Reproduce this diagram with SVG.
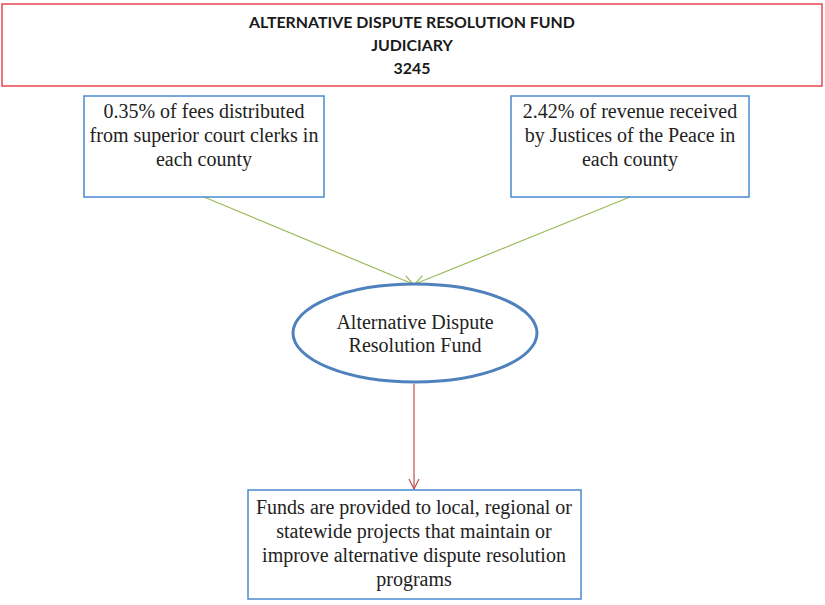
<svg xmlns="http://www.w3.org/2000/svg" width="825" height="605" viewBox="0 0 825 605">
  <style>
    .title { font-family: "Lato", "Liberation Sans", sans-serif; font-weight: bold; font-size: 15.9px; fill: #1a1a1a; text-anchor: middle; }
    .body { font-family: "Liberation Serif", "Times New Roman", serif; font-size: 20px; fill: #222; text-anchor: middle; }
    .box { fill: #fff; stroke: #4a8bd0; stroke-width: 1.5; }
    .green { stroke: #9bbb59; stroke-width: 1.2; fill: none; }
    .red { stroke: #c0504d; stroke-width: 1.2; fill: none; }
  </style>
  <defs>
    <marker id="arrGreen" viewBox="0 0 12 12" refX="11" refY="6" markerWidth="12" markerHeight="12" markerUnits="userSpaceOnUse" orient="auto">
      <path d="M1,1 L11,6 L1,11" fill="none" stroke="#9bbb59" stroke-width="1.2"/>
    </marker>
    <marker id="arrRed" viewBox="0 0 12 12" refX="11" refY="6" markerWidth="12" markerHeight="12" markerUnits="userSpaceOnUse" orient="auto">
      <path d="M1,1 L11,6 L1,11" fill="none" stroke="#c0504d" stroke-width="1.2"/>
    </marker>
  </defs>
  <rect width="825" height="605" fill="#fff"/>

  <g id="header">
    <rect x="2" y="4" width="820" height="82" fill="#fff" stroke="#e8474f" stroke-width="1.5"/>
    <text class="title" x="412" y="28">ALTERNATIVE DISPUTE RESOLUTION FUND</text>
    <text class="title" x="412" y="51">JUDICIARY</text>
    <text class="title" x="412" y="74">3245</text>
  </g>

  <g id="connectors">
    <line class="green" x1="204" y1="197" x2="413" y2="284" marker-end="url(#arrGreen)"/>
    <line class="green" x1="630" y1="197" x2="415" y2="284" marker-end="url(#arrGreen)"/>
    <line class="red" x1="414" y1="384" x2="414" y2="489" marker-end="url(#arrRed)"/>
  </g>

  <g id="source-clerks">
    <rect class="box" x="84" y="96" width="240" height="101"/>
    <text class="body" x="204" y="118">0.35% of fees distributed</text>
    <text class="body" x="204" y="142">from superior court clerks in</text>
    <text class="body" x="204" y="166">each county</text>
  </g>

  <g id="source-justices">
    <rect class="box" x="511" y="96" width="238" height="101"/>
    <text class="body" x="630" y="118">2.42% of revenue received</text>
    <text class="body" x="630" y="142">by Justices of the Peace in</text>
    <text class="body" x="630" y="166">each county</text>
  </g>

  <g id="fund">
    <ellipse cx="415" cy="333" rx="122" ry="49" fill="#fff" stroke="#4f81bd" stroke-width="3"/>
    <text class="body" x="415" y="329">Alternative Dispute</text>
    <text class="body" x="415" y="352">Resolution Fund</text>
  </g>

  <g id="outcome">
    <rect class="box" x="248" y="490" width="333" height="109"/>
    <text class="body" x="414" y="514">Funds are provided to local, regional or</text>
    <text class="body" x="414" y="538">statewide projects that maintain or</text>
    <text class="body" x="414" y="562">improve alternative dispute resolution</text>
    <text class="body" x="414" y="586">programs</text>
  </g>
</svg>
